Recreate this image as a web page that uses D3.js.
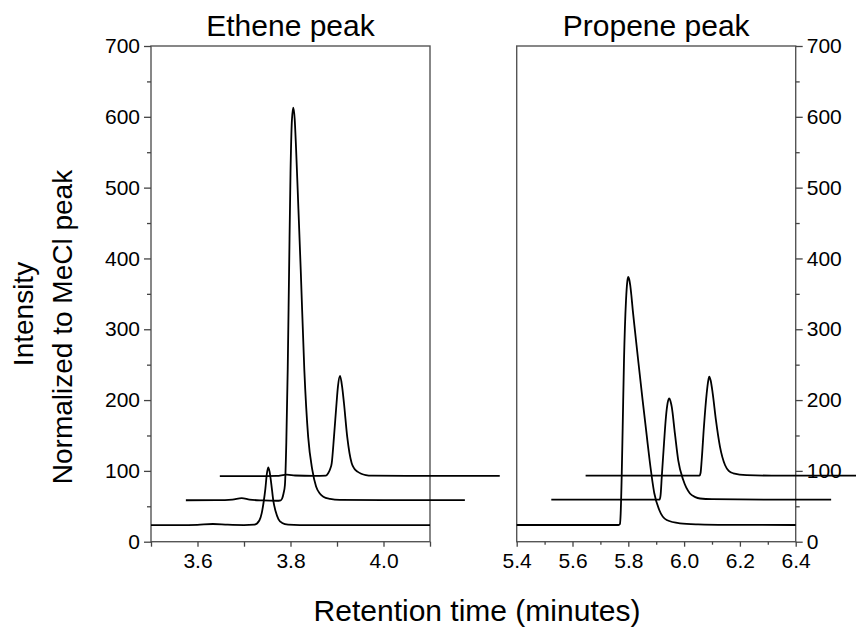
<!DOCTYPE html>
<html>
<head>
<meta charset="utf-8">
<script src="https://cdn.jsdelivr.net/npm/d3@7"></script>
<style>
  body { margin: 0; background: #fff; }
  text { font-family: Arial, 'Liberation Sans', sans-serif; }
</style>
</head>
<body>
<div id="chart"></div>
<script>
// chromatogram traces, [retention time, intensity] as they sit on the axes
const etheneA = [[3.5,23.5],[3.56,23.3],[3.6,23.8],[3.633,25],[3.665,24],[3.70,23.5],[3.722,24],[3.733,30],[3.738,40],[3.742,55],[3.746,75],[3.749,95],[3.752,105],[3.755,99],[3.759,80],[3.763,58],[3.768,43],[3.774,32],[3.782,26.5],[3.795,24],[3.82,23.3],[3.9,23.3],[4.1,23.3]];
const etheneB = [[3.575,58.5],[3.64,58.7],[3.675,59.5],[3.695,61.5],[3.712,59.5],[3.74,58.3],[3.77,57.8],[3.779,58.5],[3.782,61],[3.785,68],[3.788,80],[3.791,140],[3.794,243],[3.797,384],[3.800,520],[3.803,595],[3.806,613],[3.809,597],[3.812,555],[3.817,470],[3.822,384],[3.8297,243],[3.838,148],[3.847,101],[3.855,78],[3.863,68],[3.8706,63.5],[3.885,60.5],[3.906,59],[4.0,58.7],[4.175,58.7]];
const etheneC = [[3.648,92.5],[3.72,92.5],[3.77,93],[3.792,94.6],[3.81,93.5],[3.85,93],[3.876,93.3],[3.881,96.6],[3.8855,103],[3.8886,110.7],[3.8935,148],[3.899,195.5],[3.902,219],[3.9065,234],[3.911,219],[3.915,195.5],[3.922,148],[3.9316,110.7],[3.937,103.5],[3.944,99],[3.952,96],[3.962,94],[3.975,93.2],[4.05,93],[4.25,93]];

const propeneA = [[5.4,23.6],[5.6,23.6],[5.765,23.6],[5.770,25],[5.7727,40],[5.7763,91.8],[5.7799,162],[5.7846,256.6],[5.7918,341],[5.7966,368],[5.80,374],[5.803,371],[5.807,362],[5.811,348],[5.816,327],[5.8219,305],[5.8366,252],[5.8513,200],[5.866,150],[5.8764,115],[5.8932,68.4],[5.911,44.8],[5.9376,30.6],[5.985,26],[6.05,24.5],[6.15,23.8],[6.4,23.6]];
const propeneB = [[5.524,59.5],[5.7,59.5],[5.85,59.5],[5.912,59.5],[5.9155,65],[5.92,91.8],[5.928,139],[5.935,176.5],[5.941,196],[5.947,202.5],[5.9515,198],[5.9556,190.7],[5.967,153],[5.979,115],[5.997,87],[6.021,68],[6.04,63],[6.057,61],[6.1,60],[6.3,59.5],[6.527,59.5]];
const propeneC = [[5.647,93.2],[5.8,93.2],[6.0,93.2],[6.055,93.2],[6.059,97],[6.063,115],[6.071,162],[6.081,209.6],[6.086,226],[6.090,233],[6.095,228],[6.1025,209.6],[6.114,172],[6.1287,134],[6.147,108],[6.16,100],[6.1765,96.6],[6.224,94],[6.35,93.2],[6.647,93.2]];

const yMajor = [0, 100, 200, 300, 400, 500, 600, 700];
const yMinor = [50, 150, 250, 350, 450, 550, 650];
const etheneXMajor = [3.6, 3.8, 4.0];
const etheneXMinor = [3.5, 3.7, 3.9, 4.1];
const propeneXMajor = [5.4, 5.6, 5.8, 6.0, 6.2, 6.4];
const propeneXMinor = [5.5, 5.7, 5.9, 6.1, 6.3];

const width = 856;
const height = 629;
const plotTop = 46;
const plotBottom = 541.7;

const svg = d3
  .select('#chart')
  .append('svg')
  .attr('width', width)
  .attr('height', height);

const y = d3.scaleLinear().domain([0, 700]).range([plotBottom, plotTop]);

const line = (x) =>
  d3
    .line()
    .x((d) => x(d[0]))
    .y((d) => y(d[1]))
    .curve(d3.curveMonotoneX);

function drawPanel({ left, right, domain, xMajor, xMinor, traces, title, yOnRight }) {
  const x = d3.scaleLinear().domain(domain).range([left, right]);
  const g = svg.append('g');

  // frame
  g.append('rect')
    .attr('x', left)
    .attr('y', plotTop)
    .attr('width', right - left)
    .attr('height', plotBottom - plotTop)
    .attr('fill', 'none')
    .attr('stroke', '#555')
    .attr('stroke-width', 1.4);

  g.append('g')
    .attr('transform', `translate(0,${plotBottom})`)
    .call(d3.axisBottom(x).tickValues(xMajor).tickSize(5).tickPadding(6).tickFormat(d3.format('.1f')));
  g.append('g')
    .attr('transform', `translate(0,${plotBottom})`)
    .call(d3.axisBottom(x).tickValues(xMinor).tickSize(xMinor.length > 4 ? 3 : 5).tickFormat(''));

  const yAxis = yOnRight ? d3.axisRight(y) : d3.axisLeft(y);
  const yPos = yOnRight ? right : left;
  g.append('g')
    .attr('transform', `translate(${yPos},0)`)
    .call(yAxis.tickValues(yMajor).tickSize(7).tickPadding(4).tickFormat(d3.format('d')));
  const yAxisMinor = yOnRight ? d3.axisRight(y) : d3.axisLeft(y);
  g.append('g')
    .attr('transform', `translate(${yPos},0)`)
    .call(yAxisMinor.tickValues(yMinor).tickSize(4).tickFormat(''));

  g.selectAll('.domain').remove();
  g.selectAll('.tick line').attr('stroke', '#444').attr('stroke-width', 1.3);
  g.selectAll('.tick text').attr('fill', '#000').style('font-size', '21px');

  traces.forEach((t) => {
    svg
      .append('path')
      .datum(t)
      .attr('fill', 'none')
      .attr('stroke', '#000')
      .attr('stroke-width', 1.8)
      .attr('d', line(x));
  });

  svg
    .append('text')
    .attr('x', (left + right) / 2)
    .attr('y', 36)
    .attr('text-anchor', 'middle')
    .style('font-size', '30px')
    .text(title);
}

drawPanel({
  left: 151,
  right: 430,
  domain: [3.5, 4.1],
  xMajor: etheneXMajor,
  xMinor: etheneXMinor,
  traces: [etheneA, etheneB, etheneC],
  title: 'Ethene peak',
  yOnRight: false
});

drawPanel({
  left: 516.7,
  right: 795.7,
  domain: [5.4, 6.4],
  xMajor: propeneXMajor,
  xMinor: propeneXMinor,
  traces: [propeneA, propeneB, propeneC],
  title: 'Propene peak',
  yOnRight: true
});

// axis titles
svg
  .append('text')
  .attr('transform', 'translate(33,314) rotate(-90)')
  .attr('text-anchor', 'middle')
  .style('font-size', '28px')
  .text('Intensity');

svg
  .append('text')
  .attr('transform', 'translate(72,327) rotate(-90)')
  .attr('text-anchor', 'middle')
  .style('font-size', '28px')
  .text('Normalized to MeCl peak');

svg
  .append('text')
  .attr('x', 477)
  .attr('y', 621)
  .attr('text-anchor', 'middle')
  .style('font-size', '30px')
  .text('Retention time (minutes)');
</script>
</body>
</html>
